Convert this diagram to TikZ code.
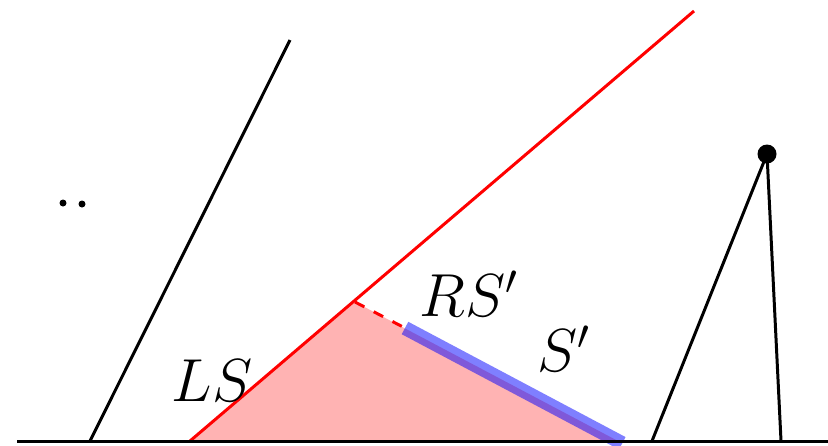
\documentclass[tikz,border=0pt]{standalone}
\usepackage{amsmath,amssymb}
\usepackage{tikz}
\usetikzlibrary{calc,positioning}
\definecolor{shadered}{RGB}{255, 179, 179}

\begin{document}
\begin{tikzpicture}[x=0.01cm, y=-0.01cm, line width=0.85pt, font=\fontsize{18}{20}\selectfont]
        \useasboundingbox (0,0) rectangle (828,445);
        % ground and main points
        \coordinate (g0) at (17,441);
        \coordinate (g1) at (828,441);
        \coordinate (foot) at (190,441);
        \coordinate (tip) at (694,11);
        \coordinate (apex) at (355,302);
        \coordinate (cut) at (405,328);
        \coordinate (far) at (618,441);
        % shaded region
        \fill[shadered] (foot) -- (apex) -- (far) -- cycle;
        \draw[red] (foot) -- (tip);
        \draw[red, dashed] (apex) -- (cut);
        \draw[blue, opacity=0.5, line width=4pt] (cut) -- ($(cut)!1.02!(far)$);
        % left wall
        \coordinate (w0) at (90,441);
        \coordinate (w1) at (290,40);
        \draw (w0) -- (w1);
        % right triangle with point
        \coordinate (r0) at (652,441);
        \coordinate (top) at (767,154);
        \coordinate (r1) at (781,441);
        \draw (r0) -- (top) -- (r1);
        \fill (top) circle[radius=9.5];
        % dots
        \fill (63,203) circle[radius=3.5];
        \fill (82,204) circle[radius=3.5];
        \draw (g0) -- (g1);
        % labels
        \node (ls) at (212,381) {$LS$};
        \node (rs) at (469,294) {$RS'$};
        \node (sp) at (564,349) {$S'$};
      \end{tikzpicture}
\end{document}
